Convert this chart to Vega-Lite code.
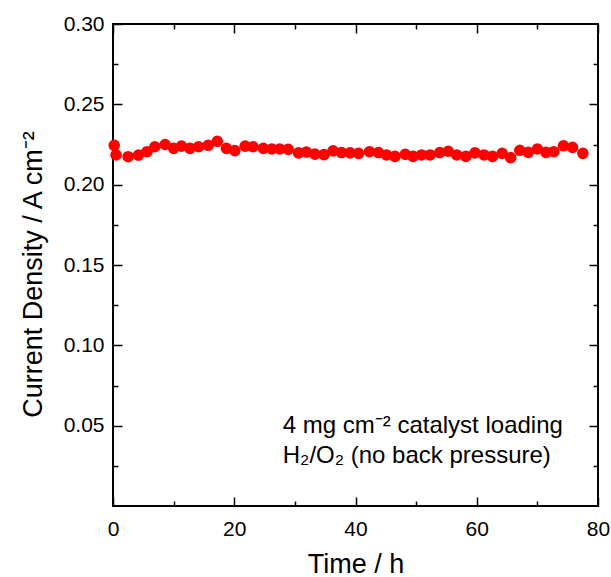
{
  "$schema": "https://vega.github.io/schema/vega-lite/v6.json",
  "autosize": "none",
  "padding": {"left": 113, "top": 24, "right": 13, "bottom": 71},
  "width": 485,
  "height": 482,
  "background": "white",
  "config": {
    "view": {"stroke": "black", "strokeWidth": 2},
    "axis": {
      "grid": false,
      "domain": false,
      "tickColor": "black",
      "tickWidth": 1.5,
      "labelColor": "black",
      "titleColor": "black",
      "labelFont": "Liberation Sans",
      "titleFont": "Liberation Sans",
      "labelFontSize": 21,
      "titleFontSize": 27,
      "titleFontWeight": "normal"
    }
  },
  "datasets": {
    "pts": [
      {"t": 0.2, "j": 0.2245}, {"t": 0.5, "j": 0.2185}, {"t": 2.5, "j": 0.2174}, {"t": 4.2, "j": 0.2184},
      {"t": 5.6, "j": 0.2205}, {"t": 6.9, "j": 0.2236}, {"t": 8.6, "j": 0.225}, {"t": 10.0, "j": 0.2226},
      {"t": 11.3, "j": 0.224}, {"t": 12.7, "j": 0.2226}, {"t": 14.1, "j": 0.2236}, {"t": 15.7, "j": 0.2245},
      {"t": 17.2, "j": 0.227}, {"t": 18.7, "j": 0.2226}, {"t": 20.1, "j": 0.2212}, {"t": 21.8, "j": 0.224},
      {"t": 23.1, "j": 0.2236}, {"t": 24.8, "j": 0.2226}, {"t": 26.2, "j": 0.2222}, {"t": 27.5, "j": 0.2222},
      {"t": 28.9, "j": 0.222}, {"t": 30.6, "j": 0.2198}, {"t": 31.9, "j": 0.2203}, {"t": 33.3, "j": 0.219},
      {"t": 34.8, "j": 0.2187}, {"t": 36.3, "j": 0.221}, {"t": 37.7, "j": 0.22}, {"t": 39.1, "j": 0.2198},
      {"t": 40.5, "j": 0.2195}, {"t": 42.3, "j": 0.2205}, {"t": 43.8, "j": 0.22}, {"t": 45.1, "j": 0.2185},
      {"t": 46.5, "j": 0.2176}, {"t": 48.2, "j": 0.2189}, {"t": 49.5, "j": 0.2176}, {"t": 50.9, "j": 0.2185},
      {"t": 52.3, "j": 0.2185}, {"t": 53.9, "j": 0.22}, {"t": 55.3, "j": 0.2208}, {"t": 56.7, "j": 0.2185},
      {"t": 58.2, "j": 0.2176}, {"t": 59.7, "j": 0.2198}, {"t": 61.2, "j": 0.2185}, {"t": 62.6, "j": 0.2176},
      {"t": 64.2, "j": 0.2195}, {"t": 65.6, "j": 0.2168}, {"t": 67.1, "j": 0.2214}, {"t": 68.5, "j": 0.2201},
      {"t": 70.0, "j": 0.2222}, {"t": 71.4, "j": 0.2201}, {"t": 72.7, "j": 0.2205}, {"t": 74.3, "j": 0.2242},
      {"t": 75.8, "j": 0.2232}, {"t": 77.5, "j": 0.2195}
    ],
    "notes": [
      {"t": 28.0, "j": 0.0454, "label": "4 mg cm⁻² catalyst loading"},
      {"t": 28.0, "j": 0.0268, "label": "H₂/O₂ (no back pressure)"}
    ]
  },
  "resolve": {"axis": {"x": "independent", "y": "independent"}},
  "layer": [
    {
      "data": {"name": "pts"},
      "mark": {"type": "point", "opacity": 0},
      "encoding": {
        "x": {"field": "t", "type": "quantitative", "scale": {"domain": [0, 80], "nice": false},
              "axis": {"orient": "top", "values": [0, 20, 40, 60, 80], "tickSize": -9, "labels": false, "title": null}},
        "y": {"field": "j", "type": "quantitative", "scale": {"domain": [0, 0.3], "nice": false},
              "axis": {"orient": "right", "values": [0.05, 0.1, 0.15, 0.2, 0.25], "tickSize": -9, "labels": false, "title": null}}
      }
    },
    {
      "data": {"name": "pts"},
      "mark": {"type": "point", "opacity": 0},
      "encoding": {
        "x": {"field": "t", "type": "quantitative", "scale": {"domain": [0, 80], "nice": false},
              "axis": {"orient": "top", "values": [10, 30, 50, 70], "tickSize": -5, "labels": false, "title": null}},
        "y": {"field": "j", "type": "quantitative", "scale": {"domain": [0, 0.3], "nice": false},
              "axis": {"orient": "right", "values": [0.025, 0.075, 0.125, 0.175, 0.225, 0.275], "tickSize": -5, "labels": false, "title": null}}
      }
    },
    {
      "data": {"name": "pts"},
      "mark": {"type": "point", "opacity": 0},
      "encoding": {
        "x": {"field": "t", "type": "quantitative", "scale": {"domain": [0, 80], "nice": false},
              "axis": {"orient": "bottom", "values": [10, 30, 50, 70], "tickSize": -5, "labels": false, "title": null}},
        "y": {"field": "j", "type": "quantitative", "scale": {"domain": [0, 0.3], "nice": false},
              "axis": {"orient": "left", "values": [0.025, 0.075, 0.125, 0.175, 0.225, 0.275], "tickSize": -5, "labels": false, "title": null}}
      }
    },
    {
      "data": {"name": "notes"},
      "mark": {"type": "text", "align": "left", "baseline": "alphabetic", "font": "Liberation Sans", "fontSize": 24, "color": "black"},
      "encoding": {
        "x": {"field": "t", "type": "quantitative", "scale": {"domain": [0, 80], "nice": false}, "axis": null},
        "y": {"field": "j", "type": "quantitative", "scale": {"domain": [0, 0.3], "nice": false}, "axis": null},
        "text": {"field": "label"}
      }
    },
    {
      "data": {"name": "pts"},
      "mark": {"type": "circle", "color": "#ff0000", "opacity": 1, "size": 135},
      "encoding": {
        "x": {"field": "t", "type": "quantitative", "scale": {"domain": [0, 80], "nice": false},
              "axis": {"orient": "bottom", "values": [0, 20, 40, 60, 80], "tickSize": -9, "labelPadding": 21, "labelFlush": false, "title": "Time / h", "titlePadding": 12, "format": "d"}},
        "y": {"field": "j", "type": "quantitative", "scale": {"domain": [0, 0.3], "nice": false},
              "axis": {"orient": "left", "values": [0.05, 0.1, 0.15, 0.2, 0.25, 0.3], "tickSize": -9, "labelPadding": 18, "labelFlush": false, "format": ".2f", "title": "Current Density / A cm⁻²", "titlePadding": 16, "titleY": 250}}
      }
    }
  ]
}
